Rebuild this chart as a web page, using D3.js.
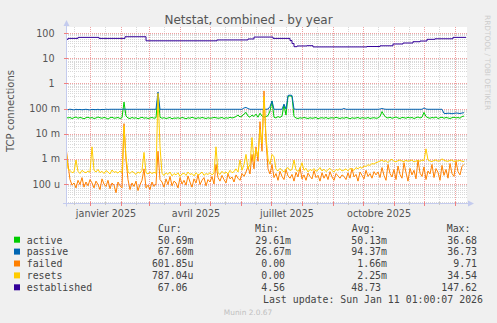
<!DOCTYPE html>
<html><head><meta charset="utf-8">
<script src="https://cdn.jsdelivr.net/npm/d3@7"></script>
<style>html,body{margin:0;padding:0;background:#f0f0f0;} svg{display:block;}</style>
</head><body>
<svg id="c" width="497" height="323"></svg>
<script>
// ---------- data ----------
const title = "Netstat, combined - by year";
const yAxisTitle = "TCP connections";
const seriesNames = ["active", "passive", "failed", "resets", "established"];
const seriesColors = ["#00cc00", "#0066b3", "#ff8000", "#ffcc00", "#330099"];

// samples every 2 days starting at sampleStart
const sampleStart = "2024-12-08";
const sampleStepDays = 2;

// active, in milli-units
const active_m = [
45,42,44,40,43,46,41,44,42,39,43,45,41,44,40,42,46,43,41,44,42,38,43,45,41,42,44,40,43,
180,50,
42,40,44,41,43,39,42,45,41,43,40,42,44,41,43,
350,45,
41,43,40,42,44,39,42,41,43,40,44,42,39,43,41,45,42,40,43,41,44,42,40,43,41,42,44,
43,41,42,44,40,43,41,45,42,44,48,55,46,50,60,
70,50,45,55,48,60,45,65,50,45,48,52,80,200,
45,42,48,44,50,140,55,300,320,300,48,42,40,43,41,44,42,
40,43,41,42,44,39,42,43,41,44,40,42,43,41,45,42,40,43,41,44,42,39,43,41,42,44,40,43,42,41,44,40,42,43,41,
42,48,75,55,44,42,45,41,43,46,42,40,44,43,41,45,42,44,40,43,46,42,45,70,48,43,41,44,42,46,40,43,45,41,44,42,40,43,45,42,44,41,48,50
];

// passive, in milli-units
const passive_m = [
92,90,94,91,88,93,90,92,89,91,93,90,88,92,91,90,93,89,92,91,94,92,93,93,93,93,93,93,93,
95,93,
93,93,93,93,93,93,93,93,93,93,93,93,93,93,93,
450,93,
93,93,93,93,93,93,93,93,93,93,93,93,93,93,93,93,93,93,93,93,93,93,93,93,93,93,93,93,93,93,93,93,93,93,93,93,93,93,93,93,93,105,
110,100,93,93,93,93,93,93,93,93,93,95,120,200,
93,93,93,93,93,150,95,330,340,330,95,93,93,93,93,93,93,
93,93,93,93,93,93,93,93,93,93,93,93,93,93,93,93,93,93,100,93,93,93,93,93,93,93,93,93,93,93,93,93,93,93,93,
93,95,100,95,93,93,93,93,93,93,93,93,93,93,93,93,93,93,93,93,93,93,93,105,95,93,93,93,93,93,93,93,93,64,63,65,64,62,64,66,65,63,66,68
];

// failed, in micro-units
const failed_u = [
3000,600,150,90,110,70,140,95,180,75,120,85,150,
110,70,130,95,60,160,100,80,140,65,110,90,45,120,85,70,
25000,900,
150,60,110,80,130,55,95,140,400,70,90,60,120,80,100,
2000,150,
120,75,160,95,200,85,130,110,70,180,100,140,90,210,120,75,160,110,230,95,140,180,85,150,120,200,100,
600,
180,130,220,150,110,250,160,190,120,230,170,140,260,200,
300,500,250,1500,400,3000,800,30000,2000,500000,5000,400,250,600,
180,260,140,320,200,150,380,210,170,240,130,290,190,450,160,230,140,270,200,160,340,180,220,130,280,170,250,150,310,190,140,260,210,170,230,
200,150,280,170,420,190,240,130,300,220,160,350,200,260,170,310,230,
300,180,450,220,140,600,260,190,380,150,520,240,170,700,280,130,420,230,350,160,900,270,200,480,150,330,250,600,180,410,290,140,550,220,380,170,650,260,200,800,310,230,500,600
];

// resets, in micro-units
const resets_u = [
2500,400,350,280,300,900,320,260,350,300,280,330,290,
3000,350,300,380,280,320,260,340,300,250,360,290,310,270,330,280,
20000,1200,
300,260,320,280,240,300,270,350,1800,280,250,300,260,290,270,
400000,3000,
260,220,280,240,300,210,260,230,280,200,250,270,220,300,240,260,210,280,230,250,300,220,260,240,280,230,270,
3000,
280,240,320,260,300,250,350,280,310,400,300,900,350,600,
1500,400,600,7000,800,2500,1200,15000,4000,300000,8000,1000,600,1500,
1200,380,330,420,350,300,400,450,340,380,900,360,320,400,700,350,420,300,380,340,410,320,360,450,330,390,310,370,420,340,300,380,350,410,330,
360,400,330,420,380,350,450,400,480,420,520,500,580,550,650,620,700,
750,820,900,780,850,700,880,950,800,760,850,900,820,780,870,800,840,900,760,820,860,800,900,850,2500,900,820,780,860,900,800,840,1000,880,820,800,860,900,780,840,820,880,800,790
];

// established: change points
const establishedDates = ["2024-12-08","2024-12-10","2024-12-20","2025-01-10","2025-02-05","2025-02-26","2025-05-08","2025-06-08","2025-06-14","2025-07-03","2025-07-20","2025-07-22","2025-07-24","2025-07-27","2025-08-06","2025-08-12","2025-10-05","2025-10-18","2025-10-31","2025-11-10","2025-11-20","2025-11-27","2025-12-04","2025-12-12","2025-12-30","2026-01-12"];
const establishedValues = [56,61,67,61,71,49,53,58,69,61,50,38,28.6,30.5,31.3,28,29,31,36.6,40,45,48,56,59,67,67];

const yTickValues = [100, 10, 1, 0.1, 0.01, 0.001, 0.0001];
const yTickLabels = ["100", "10", "1", "100 m", "10 m", "1 m", "100 u"];
const xLabelDates = ["2025-01-17", "2025-04-17", "2025-07-17", "2025-10-17"];
const xLabelTexts = ["janvier 2025", "avril 2025", "juillet 2025", "octobre 2025"];

const legendCur = ["50.69m", "67.60m", "601.85u", "787.04u", "67.06"];
const legendMin = ["29.61m", "26.67m", "0.00", "0.00", "4.56"];
const legendAvg = ["50.13m", "94.37m", "1.66m", "2.25m", "48.73"];
const legendMax = ["36.68", "36.73", "9.71", "34.54", "147.62"];
const legendHeaders = ["Cur:", "Min:", "Avg:", "Max:"];
const lastUpdate = "Last update: Sun Jan 11 01:00:07 2026";
const footer = "Munin 2.0.67";
const watermark = "RRDTOOL / TOBI OETIKER";

// ---------- layout ----------
const W = 497, H = 323;
const plot = {left: 66, right: 467, top: 27, bottom: 203.5};
const svg = d3.select("#c");
svg.append("rect").attr("width", W).attr("height", H).attr("fill", "#f0f0f0");

const parse = d3.utcParse("%Y-%m-%d");
const x = d3.scaleUtc().domain([parse("2024-12-08"), parse("2026-01-12")]).range([66, 466]);
const y = d3.scaleLog().domain([1e-4, 100]).range([184, 33]);

svg.append("rect").attr("x", plot.left).attr("y", plot.top)
  .attr("width", plot.right - plot.left).attr("height", plot.bottom - plot.top).attr("fill", "#ffffff");

svg.append("defs").append("clipPath").attr("id", "clip").append("rect")
  .attr("x", plot.left).attr("y", plot.top).attr("width", plot.right - plot.left).attr("height", plot.bottom - plot.top);

// horizontal grid
const minorH = [], majorH = [];
for (let e = -5; e <= 2; e++) {
  const d = Math.pow(10, e);
  majorH.push(d);
  for (let k = 2; k <= 9; k++) minorH.push(k * d);
}
const inPlotY = v => { const p = y(v); return p >= plot.top && p <= plot.bottom; };
const grid = svg.append("g");
grid.selectAll(".hmin").data(minorH.filter(inPlotY)).join("line")
  .attr("x1", plot.left).attr("x2", plot.right)
  .attr("y1", d => Math.round(y(d)) + 0.5).attr("y2", d => Math.round(y(d)) + 0.5)
  .attr("stroke", "#d8d8d8").attr("stroke-width", 1).attr("stroke-dasharray", "1,1");

// vertical grid
const months = d3.utcMonth.range(parse("2024-12-08"), parse("2026-01-12"));
const mids = months.map(m => d3.utcDay.offset(m, 15)).concat([parse("2024-12-16")]).filter(d => x(d) > plot.left && x(d) < plot.right);
grid.selectAll(".vmin").data(mids).join("line")
  .attr("x1", d => Math.round(x(d)) + 0.5).attr("x2", d => Math.round(x(d)) + 0.5)
  .attr("y1", plot.top).attr("y2", plot.bottom)
  .attr("stroke", "#d8d8d8").attr("stroke-dasharray", "1,1");
grid.selectAll(".vmaj").data(months).join("line")
  .attr("x1", d => Math.round(x(d)) + 0.5).attr("x2", d => Math.round(x(d)) + 0.5)
  .attr("y1", plot.top).attr("y2", plot.bottom)
  .attr("stroke", "#f0a0a0").attr("stroke-dasharray", "1,1");
grid.selectAll(".hmaj").data(majorH.filter(inPlotY)).join("line")
  .attr("x1", plot.left).attr("x2", plot.right)
  .attr("y1", d => Math.round(y(d)) + 0.5).attr("y2", d => Math.round(y(d)) + 0.5)
  .attr("stroke", "#f0a0a0").attr("stroke-width", 1).attr("stroke-dasharray", "1,1");

// series
const start = parse(sampleStart);
const toPts = (arr, unit) => arr.map((v, i) => ({t: d3.utcDay.offset(start, i * sampleStepDays), v: v * unit}));
const seriesData = [
  toPts(active_m, 1e-3),
  toPts(passive_m, 1e-3),
  toPts(failed_u, 1e-6),
  toPts(resets_u, 1e-6),
  establishedDates.map((d, i) => ({t: parse(d), v: establishedValues[i]}))
];
const lines = svg.append("g").attr("clip-path", "url(#clip)");
seriesData.forEach((pts, si) => {
  const gen = d3.line().x(d => x(d.t)).y(d => y(d.v))
    .curve(si === 4 ? d3.curveStepAfter : d3.curveLinear);
  lines.append("path").attr("d", gen(pts)).attr("fill", "none")
    .attr("stroke", seriesColors[si]).attr("stroke-width", 1);
});

// axes
const axisCol = "#c4cbee";
svg.append("line").attr("x1", 66.5).attr("x2", 66.5).attr("y1", plot.bottom + 3).attr("y2", 23).attr("stroke", axisCol);
svg.append("path").attr("d", "M63.5,26 L69.5,26 L66.5,20 Z").attr("fill", axisCol);
svg.append("line").attr("x1", 63).attr("x2", 469).attr("y1", 203.5).attr("y2", 203.5).attr("stroke", axisCol);
svg.append("path").attr("d", "M468,200.5 L468,206.5 L474,203.5 Z").attr("fill", axisCol);

// axis ticks
svg.selectAll(".xtmaj").data(months).join("line")
  .attr("x1", d => Math.round(x(d)) + 0.5).attr("x2", d => Math.round(x(d)) + 0.5)
  .attr("y1", 202).attr("y2", 206).attr("stroke", "#f08080");
svg.selectAll(".xtmin").data(mids).join("line")
  .attr("x1", d => Math.round(x(d)) + 0.5).attr("x2", d => Math.round(x(d)) + 0.5)
  .attr("y1", 202).attr("y2", 205).attr("stroke", "#c8c8c8");
svg.selectAll(".ytmaj").data(majorH.filter(inPlotY)).join("line")
  .attr("x1", 64).attr("x2", 68).attr("y1", d => Math.round(y(d)) + 0.5).attr("y2", d => Math.round(y(d)) + 0.5)
  .attr("stroke", "#f08080");

const font = "DejaVu Sans, sans-serif";
const mono = "DejaVu Sans Mono, monospace";
const txtCol = "#555";

// y labels
svg.selectAll(".ylab").data(yTickValues).join("text")
  .attr("x", (d, i) => yTickLabels[i].indexOf(" ") >= 0 ? 60 : 54.5)
  .attr("y", d => y(d) + 3.5)
  .attr("text-anchor", "end").attr("font-family", font).attr("font-size", 9.6).attr("fill", txtCol)
  .text((d, i) => yTickLabels[i]);

// x labels
svg.selectAll(".xlab").data(xLabelDates).join("text")
  .attr("x", d => x(parse(d))).attr("y", 216.5)
  .attr("text-anchor", "middle").attr("font-family", font).attr("font-size", 9.6).attr("fill", txtCol)
  .text((d, i) => xLabelTexts[i]);

// title
svg.append("text").attr("x", 248.5).attr("y", 23.5).attr("text-anchor", "middle")
  .attr("font-family", font).attr("font-size", 12).attr("fill", txtCol).text(title);

// y axis title
svg.append("text").attr("transform", "translate(13.8,111) rotate(-90)").attr("text-anchor", "middle")
  .attr("font-family", font).attr("font-size", 10).attr("fill", txtCol).text(yAxisTitle);

// watermark
svg.append("text").attr("transform", "translate(485,15) rotate(90)")
  .attr("font-family", font).attr("font-size", 7.4).attr("fill", "#cccccc").text(watermark);

// legend
const lg = svg.append("g").attr("font-family", mono).attr("font-size", 9.9).attr("fill", "#444");
const headerX = [158, 255, 351.7, 446.7];
legendHeaders.forEach((h, i) => lg.append("text").attr("x", headerX[i]).attr("y", 231.6).text(h));
const colRight = [193.5, 291, 387, 483];
const charW = 5.96;
const cols = [legendCur, legendMin, legendAvg, legendMax];
seriesNames.forEach((n, i) => {
  const by = 243.5 + i * 11.9;
  lg.append("rect").attr("x", 14).attr("y", by - 6.8).attr("width", 6).attr("height", 6).attr("fill", seriesColors[i]);
  lg.append("text").attr("x", 26.7).attr("y", by).text(n);
  cols.forEach((c, ci) => {
    const s = c[i];
    const hasUnit = /[a-zA-Z]$/.test(s);
    lg.append("text").attr("x", colRight[ci] - (hasUnit ? 0 : charW)).attr("y", by)
      .attr("text-anchor", "end").text(s);
  });
});
lg.append("text").attr("x", 483).attr("y", 243.5 + 5 * 11.9).attr("text-anchor", "end").text(lastUpdate);

svg.append("text").attr("x", 248).attr("y", 315).attr("text-anchor", "middle")
  .attr("font-family", font).attr("font-size", 7.4).attr("fill", "#c0c0c0").text(footer);
</script>
</body></html>
